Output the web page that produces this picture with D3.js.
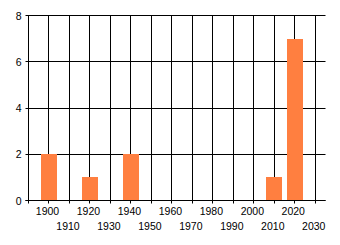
<!DOCTYPE html>
<html>
<head>
<meta charset="utf-8">
<script src="https://cdn.jsdelivr.net/npm/d3@7"></script>
<style>
	body { margin: 0; background: #fff; }
	svg { display: block; font-family: "Liberation Sans", Arial, sans-serif; }
	.tick text { font-size: 10.5px; fill: #000; }
</style>
</head>
<body>
<svg id="chart" width="340" height="245"></svg>
<script>
// data
const years = [1900, 1920, 1940, 2010, 2020];
const counts = [2, 1, 2, 1, 7];
const xTicks = d3.range(1900, 2031, 10);
const yTicks = [0, 2, 4, 6, 8];

const svg = d3.select("#chart");
const mLeft = 28.5, mRight = 325.5, mTop = 15.5, mBottom = 200.5;

const x = d3.scaleLinear().domain([1890, 2035]).range([mLeft, mRight]);
const y = d3.scaleLinear().domain([0, 8]).range([mBottom, mTop]);
const px = v => Math.round(v - 0.5) + 0.5;

// horizontal grid
svg.append("g")
	.selectAll("line")
	.data(yTicks)
	.enter()
	.append("line")
	.attr("x1", mLeft - 3).attr("x2", mRight)
	.attr("y1", d => px(y(d))).attr("y2", d => px(y(d)))
	.attr("stroke", "#000");

// vertical grid (ticks hang 3px under the axis)
svg.append("g")
	.selectAll("line")
	.data(xTicks)
	.enter()
	.append("line")
	.attr("x1", d => px(x(d))).attr("x2", d => px(x(d)))
	.attr("y1", mTop).attr("y2", mBottom + 3)
	.attr("stroke", "#000");

// bars, 8 years wide, centred on the year
svg.append("g")
	.selectAll("rect")
	.data(years)
	.enter()
	.append("rect")
	.attr("x", d => Math.round(x(d - 4)))
	.attr("width", d => Math.round(x(d + 4)) - Math.round(x(d - 4)))
	.attr("y", (d, i) => Math.round(y(counts[i])))
	.attr("height", (d, i) => Math.round(y(0)) - Math.round(y(counts[i])))
	.attr("fill", "#ff7f40");

// y axis
const yAxis = svg.append("g")
	.attr("transform", `translate(${mLeft},0)`)
	.call(d3.axisLeft(y).tickValues(yTicks).tickSize(3).tickSizeOuter(0).tickFormat(d3.format("d")));
yAxis.select(".domain").attr("stroke", "#000").attr("d", `M0,${mTop - 0.5}V${mBottom + 3}`);
yAxis.selectAll(".tick line").remove();
yAxis.selectAll(".tick text").attr("x", -7).attr("dy", "0.35em");

// x axis
const xAxis = svg.append("g")
	.attr("transform", `translate(0,${mBottom})`)
	.call(d3.axisBottom(x).tickValues(xTicks).tickSize(0).tickSizeOuter(0).tickFormat(d3.format("d")));
xAxis.select(".domain").attr("stroke", "#000").attr("d", `M${mLeft - 3},0H${mRight}`);
xAxis.selectAll(".tick text")
	.attr("dx", -2)
	.attr("dy", 0)
	.attr("y", (d, i) => i % 2 ? 29.5 : 14.5);
</script>
</body>
</html>
